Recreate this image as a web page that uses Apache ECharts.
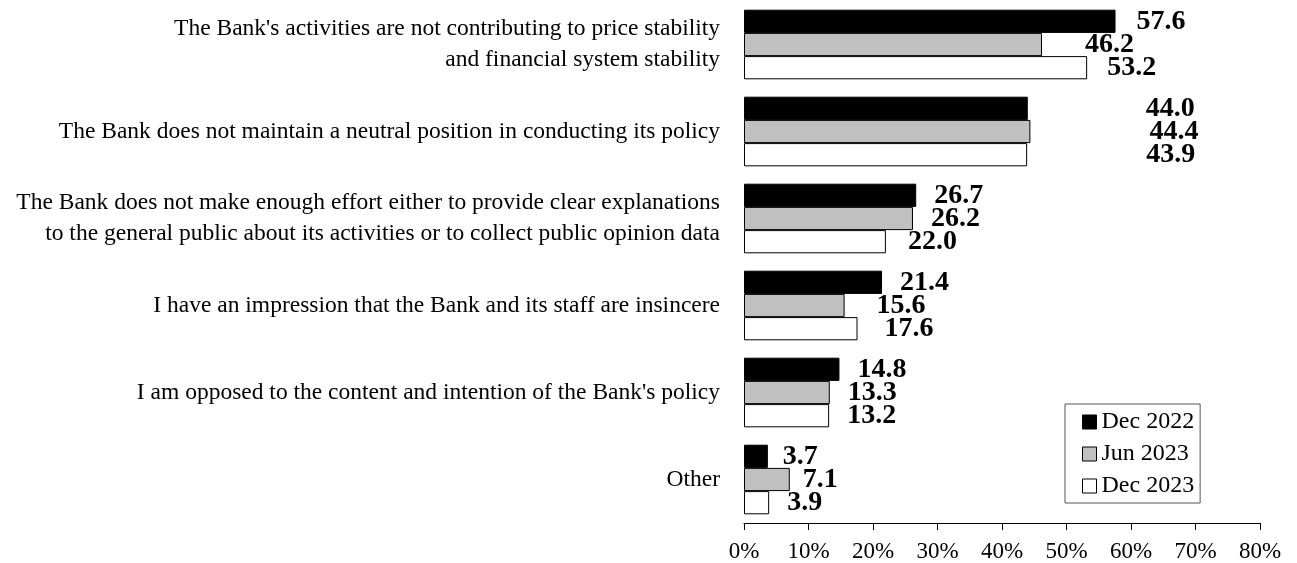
<!DOCTYPE html>
<html>
<head>
<meta charset="utf-8">
<script src="https://cdn.jsdelivr.net/npm/echarts@6/dist/echarts.min.js"></script>
<style>
  html, body { margin: 0; padding: 0; background: #ffffff; }
  #chart { width: 1297px; height: 563px; }
</style>
</head>
<body>
<div id="chart"></div>
<script>
// Reasons given for not trusting the Bank (% of respondents)
const categories = [
  "The Bank's activities are not contributing to price stability\nand financial system stability",
  "The Bank does not maintain a neutral position in conducting its policy",
  "The Bank does not make enough effort either to provide clear explanations\nto the general public about its activities or to collect public opinion data",
  "I have an impression that the Bank and its staff are insincere",
  "I am opposed to the content and intention of the Bank's policy",
  "Other"
];
const seriesNames = ["Dec 2022", "Jun 2023", "Dec 2023"];
const dec2022 = [57.6, 44.0, 26.7, 21.4, 14.8, 3.7];
const jun2023 = [46.2, 44.4, 26.2, 15.6, 13.3, 7.1];
const dec2023 = [53.2, 43.9, 22.0, 17.6, 13.2, 3.9];
const tickValues = [0, 10, 20, 30, 40, 50, 60, 70, 80];

// Layout / styling
const FONT = "'Liberation Serif', 'Times New Roman', serif";
const fills = ["#000000", "#c0c0c0", "#ffffff"];
const values = [dec2022, jun2023, dec2023];
const baseLabelGap = 18;
// extra horizontal room for individual value labels (px), per series and row
const labelExtraGap = [
  [3, 100, 0, 0, 0, -3],
  [25, 101, 0, 14, 0, -5],
  [2, 101, 4, 9, 0, 0]
];

const chart = echarts.init(document.getElementById('chart'), null, { renderer: 'canvas' });

const series = seriesNames.map((name, i) => ({
  name: name,
  type: 'bar',
  data: values[i].map((v, j) => ({
    value: v,
    label: { distance: baseLabelGap + labelExtraGap[i][j] }
  })),
  barGap: '0%',
  barCategoryGap: '20%',
  itemStyle: { color: fills[i], borderColor: '#000000', borderWidth: 1 },
  label: {
    show: true,
    position: 'right',
    color: '#000000',
    fontFamily: FONT,
    fontWeight: 'bold',
    fontSize: 28,
    formatter: p => p.value.toFixed(1)
  },
  emphasis: { disabled: true },
  animation: false
}));

chart.setOption({
  backgroundColor: '#ffffff',
  animation: false,
  grid: { left: 744, right: 37, top: 1, bottom: 38, containLabel: false },
  legend: {
    orient: 'vertical',
    left: 1065,
    top: 404,
    data: seriesNames.map(n => ({ name: n, icon: 'rect' })),
    itemWidth: 14,
    itemHeight: 14,
    itemGap: 8,
    padding: [6, 6, 5, 17],
    borderColor: '#555555',
    borderWidth: 1,
    backgroundColor: '#ffffff',
    textStyle: { fontFamily: FONT, fontSize: 24, color: '#000000' },
    itemStyle: { borderColor: '#000000', borderWidth: 1 }
  },
  xAxis: {
    type: 'value',
    min: 0,
    max: 80,
    interval: 10,
    axisLine: { show: true, lineStyle: { color: '#000000', width: 1 } },
    axisTick: { show: true, length: 7, lineStyle: { color: '#000000' } },
    splitLine: { show: false },
    axisLabel: {
      margin: 17,
      fontFamily: FONT,
      fontSize: 23,
      color: '#000000',
      formatter: v => (tickValues.indexOf(v) >= 0 ? v + '%' : '')
    }
  },
  yAxis: {
    type: 'category',
    inverse: true,
    data: categories,
    axisLine: { show: false },
    axisTick: { show: false },
    axisLabel: {
      margin: 24,
      fontFamily: FONT,
      fontSize: 23.5,
      lineHeight: 31,
      color: '#000000',
      align: 'right'
    }
  },
  series: series
});
</script>
</body>
</html>
